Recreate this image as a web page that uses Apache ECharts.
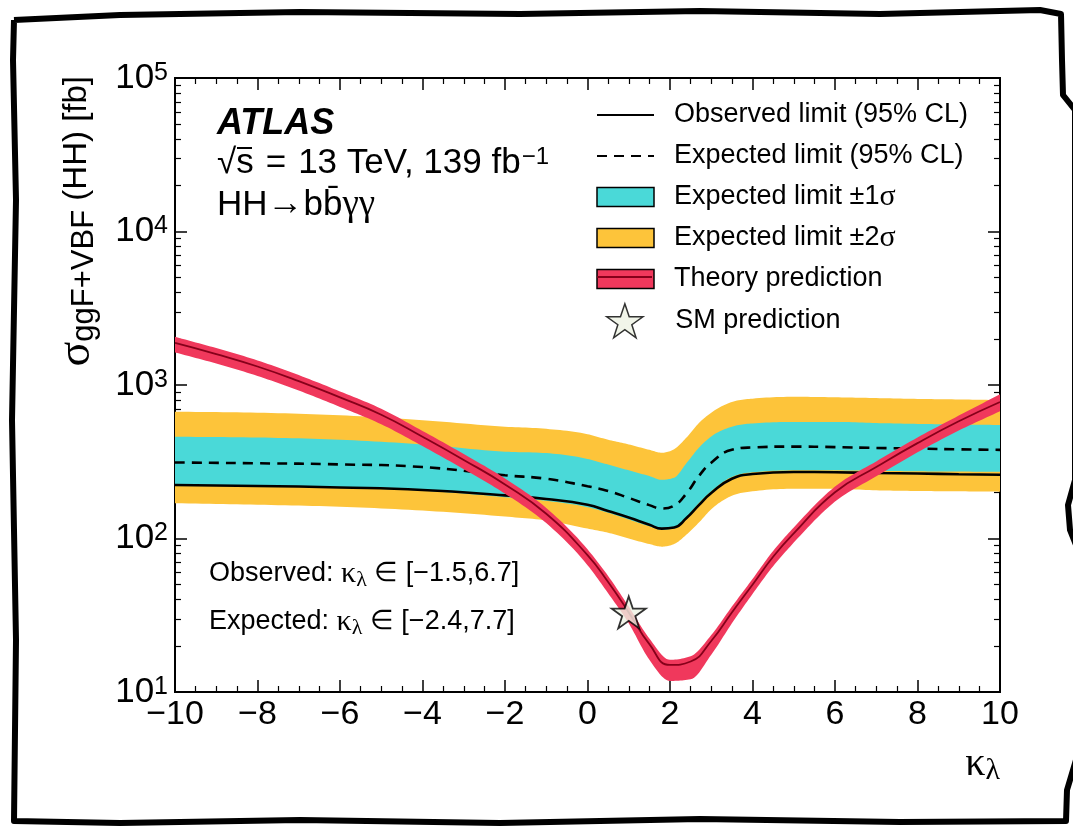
<!DOCTYPE html>
<html><head><meta charset="utf-8">
<script src="https://cdn.jsdelivr.net/npm/echarts@6/dist/echarts.min.js"></script>
<style>html,body{margin:0;padding:0;background:#fff}#c{width:1073px;height:831px}</style>
</head><body><div id="c"></div>
<script>
// ---- data ----
const kappaLim = [-10, -8, -6, -4, -2, -1, 0, 0.5, 1, 1.5, 1.8, 2.1, 2.4, 2.7, 3.0, 3.5, 4, 5, 6, 7, 8, 9, 10];
const expLimit = [313, 309, 304, 292, 258, 245, 219, 204, 184, 165, 157, 164, 197, 255, 312, 378, 392, 397, 394, 389, 385, 381, 378];
const obsLimit = [223, 220, 215, 207, 191, 181, 166, 151, 137, 123, 116, 118, 136, 165, 198, 245, 263, 271, 270, 267, 265, 262, 260];
const exp1Up   = [460, 455, 440, 410, 368, 360, 330, 303, 278, 255, 241, 249, 310, 390, 462, 535, 562, 575, 575, 565, 558, 553, 549];
const exp1Down = [222, 219, 214, 205, 186, 176, 160, 147, 133, 120, 114, 116, 137, 170, 203, 252, 270, 278, 278, 276, 274, 273, 272];
const exp2Up   = [670, 660, 635, 590, 535, 518, 478, 440, 410, 378, 362, 382, 455, 565, 660, 775, 815, 838, 832, 822, 812, 805, 798];
const exp2Down = [170, 166, 161, 152, 139, 131, 116, 109, 100, 92, 88.5, 92, 106, 127, 155, 190, 203, 211, 211, 206, 204, 203, 202];

const kappaTh    = [-10, -9, -8, -7, -6, -5, -4, -3, -2, -1, 0, 0.5, 1, 1.5, 2, 2.5, 3, 3.5, 4, 4.5, 5, 6, 7, 8, 9, 10];
const theory     = [1880, 1590, 1320, 1060, 830, 640, 460, 325, 225, 145, 78, 52, 33, 20.5, 15.0, 15.8, 21.5, 33, 50, 76, 108, 200, 292, 418, 580, 775];
const theoryUp   = [2060, 1740, 1445, 1160, 908, 700, 502, 355, 246, 158, 85, 57, 36, 22.3, 16.2, 17.1, 23.5, 36, 54.5, 83, 118, 218, 318, 455, 632, 870];
const theoryDown = [1630, 1380, 1145, 920, 720, 555, 400, 283, 196, 126, 67, 44, 28, 16.2, 11.8, 12.1, 17.5, 28, 43.5, 66, 94, 174, 254, 364, 505, 675];

const smPoint = [1.0, 33];
const xRange = [-10, 10];
const yRange = [10, 100000];
const legendNames = ['Observed limit (95% CL)', 'Expected limit (95% CL)', 'Expected limit \u00b11\u03c3', 'Expected limit \u00b12\u03c3', 'Theory prediction', 'SM prediction'];

// ---- styling ----
const SANS = "'Liberation Sans', Arial, Helvetica, sans-serif";
const SERIF = "'Liberation Serif', 'DejaVu Serif', serif";
const YELLOW = '#FDC43A';
const CYAN = '#4AD9D8';
const RED = '#F0385C';
const DARKRED = '#86001A';
const STARFILL = '#EEF2E4';
const STAR = 'path://M50,0 L61.8,35.1 L98.9,35.1 L68.9,56.8 L80.3,91.9 L50,70.2 L19.7,91.9 L31.1,56.8 L1.1,35.1 L38.2,35.1 Z';

const pairs = (xs, ys) => xs.map((x, i) => [x, ys[i]]);

// monotone cubic drawing of a pixel-space curve (same idea as a monotone-x smooth line)
function smoothPixels(P) {
  const n = P.length, out = [];
  if (n < 2) return P.slice();
  const h = [], s = [];
  for (let i = 0; i < n - 1; i++) { h.push(P[i + 1][0] - P[i][0]); s.push((P[i + 1][1] - P[i][1]) / h[i]); }
  const m = new Array(n);
  m[0] = s[0]; m[n - 1] = s[n - 2];
  for (let i = 1; i < n - 1; i++) {
    const s0 = s[i - 1], s1 = s[i], h0 = h[i - 1], h1 = h[i];
    const p = (s0 * h1 + s1 * h0) / (h0 + h1);
    m[i] = (Math.sign(s0) + Math.sign(s1)) * Math.min(Math.abs(s0), Math.abs(s1), 0.5 * Math.abs(p)) || 0;
  }
  for (let i = 0; i < n - 1; i++) {
    const steps = 12;
    for (let k = 0; k < steps; k++) {
      const t = k / steps, t2 = t * t, t3 = t2 * t;
      const y = (2 * t3 - 3 * t2 + 1) * P[i][1] + (t3 - 2 * t2 + t) * h[i] * m[i]
              + (-2 * t3 + 3 * t2) * P[i + 1][1] + (t3 - t2) * h[i] * m[i + 1];
      out.push([P[i][0] + t * h[i], y]);
    }
  }
  out.push(P[n - 1]);
  return out;
}
function bandSeries(name, xs, up, dn, color, z) {
  return {
    type: 'custom', name: name, coordinateSystem: 'cartesian2d', clip: true, silent: true, z: z,
    itemStyle: {color: color},
    encode: {x: 0, y: [1, 2]},
    data: xs.map((x, i) => [x, up[i], dn[i]]),
    renderItem: function (params, api) {
      if (params.dataIndex !== 0) return null;
      const U = smoothPixels(xs.map((x, i) => api.coord([x, up[i]])));
      const D = smoothPixels(xs.map((x, i) => api.coord([x, dn[i]])));
      return {type: 'polygon', shape: {points: U.concat(D.reverse())}, style: {fill: color, stroke: null}};
    }
  };
}

const minorY = [];
for (let d = yRange[0]; d < yRange[1]; d *= 10) for (let k = 2; k <= 9; k++) minorY.push(d * k);

function xAxisDef(pos, labels) {
  return {
    type: 'value', min: xRange[0], max: xRange[1], interval: 2, position: pos,
    axisLine: {show: true, onZero: false, lineStyle: {color: '#000', width: 2}},
    axisTick: {show: true, inside: true, length: 12, lineStyle: {color: '#000', width: 1.5}},
    minorTick: {show: true, splitNumber: 4, length: 6, lineStyle: {color: '#000', width: 1.2}},
    splitLine: {show: false}, minorSplitLine: {show: false},
    axisLabel: labels ? {show: true, margin: 6, fontSize: 34, fontFamily: SANS, color: '#000',
      formatter: v => String(v).replace('-', '\u2212')} : {show: false}
  };
}
function yAxisDef(pos, labels, minor) {
  return {
    type: 'log', logBase: 10, min: yRange[0], max: yRange[1], position: pos,
    axisLine: {show: true, onZero: false, lineStyle: {color: '#000', width: 2}},
    axisTick: minor ? {show: true, inside: true, length: 6, customValues: minorY, lineStyle: {color: '#000', width: 1.2}}
                    : {show: true, inside: true, length: 12, lineStyle: {color: '#000', width: 1.5}},
    splitLine: {show: false},
    axisLabel: labels ? {show: true, margin: 7,
      formatter: v => '{b|10}{s|' + Math.round(Math.log10(v)) + '}',
      rich: {b: {fontSize: 35, fontFamily: SANS, color: '#000'},
             s: {fontSize: 25, fontFamily: SANS, color: '#000', verticalAlign: 'top'}}} : {show: false}
  };
}

const chart = echarts.init(document.getElementById('c'), null, {renderer: 'canvas', width: 1073, height: 831});
const hidden = {color: 'rgba(0,0,0,0)', borderColor: 'rgba(0,0,0,0)', borderWidth: 0};

const option = {
  backgroundColor: '#fff',
  animation: false,
  grid: {left: 175, top: 78, width: 825, height: 614, containLabel: false, outerBoundsMode: 'none'},
  xAxis: [xAxisDef('bottom', true), xAxisDef('top', false)],
  yAxis: [yAxisDef('left', true, false), yAxisDef('left', false, true), yAxisDef('right', false, false), yAxisDef('right', false, true)],
  legend: [{
    orient: 'vertical', left: 591, top: 95, itemWidth: 57, itemHeight: 19, itemGap: 11,
    selectedMode: false, z: 20,
    textStyle: {fontFamily: SANS, fontSize: 27, color: '#000', lineHeight: 30,
      rich: {sp: {width: 15}, t: {fontFamily: SANS, fontSize: 27, lineHeight: 30}, g: {fontFamily: SERIF, fontSize: 30, lineHeight: 30}}},
    formatter: n => {
      const m = n.match(/^(.*)(\u03c3)$/);
      return m ? '{sp|}{t|' + m[1] + '}{g|\u03c3}' : '{sp|}{t|' + n + '}';
    },
    data: [
      {name: legendNames[0], itemStyle: hidden},
      {name: legendNames[1], itemStyle: hidden},
      {name: legendNames[2], icon: 'rect', itemStyle: {color: CYAN, borderColor: '#000', borderWidth: 1.5}},
      {name: legendNames[3], icon: 'rect', itemStyle: {color: YELLOW, borderColor: '#000', borderWidth: 1.5}},
      {name: legendNames[4], icon: 'rect', itemStyle: {color: RED, borderColor: '#000', borderWidth: 1.5}}
    ]
  }, {
    orient: 'vertical', left: 601, top: 298, itemWidth: 57, itemHeight: 34,
    selectedMode: false, z: 20,
    textStyle: {fontFamily: SANS, fontSize: 27, color: '#000', rich: {sp: {width: 17}, t: {fontFamily: SANS, fontSize: 27}}},
    formatter: n => '{sp|}{t|' + n + '}',
    data: [{name: legendNames[5], icon: STAR, itemStyle: {color: STARFILL, borderColor: '#000', borderWidth: 1.5}}]
  }],
  series: [
    bandSeries(legendNames[3], kappaLim, exp2Up, exp2Down, YELLOW, 2),
    bandSeries(legendNames[2], kappaLim, exp1Up, exp1Down, CYAN, 2),
    {type: 'line', name: legendNames[1], symbol: 'none', smooth: 0.5, data: pairs(kappaLim, expLimit), z: 3,
      itemStyle: {color: '#000'}, lineStyle: {color: '#000', width: 2.6, type: [10, 7]}},
    {type: 'line', name: legendNames[0], symbol: 'none', smooth: 0.5, data: pairs(kappaLim, obsLimit), z: 3,
      itemStyle: {color: '#000'}, lineStyle: {color: '#000', width: 2.6}},
    bandSeries(legendNames[4], kappaTh, theoryUp, theoryDown, RED, 4),
    {type: 'line', name: 'theory central', symbol: 'none', smooth: 0.5, data: pairs(kappaTh, theory), z: 5,
      lineStyle: {color: DARKRED, width: 1.8}},
    {type: 'scatter', name: legendNames[5], data: [smPoint], symbol: STAR, symbolSize: 34, symbolKeepAspect: true,
      itemStyle: {color: STARFILL, borderColor: '#000', borderWidth: 1.8}, z: 10}
  ],
  graphic: [
    {type: 'polyline', silent: true, z: 100, shape: {points: [[14,20],[120,15],[300,12],[520,14],[700,11],[880,14],[1040,10],[1061,14],[1062,60],[1063,95],[1075,110],[1075,480],[1068,505],[1070,530],[1076,545],[1076,760],[1067,790],[1066,821],[900,822],[700,819],[500,823],[300,820],[120,823],[14,821],[16,640],[12,420],[16,200],[13,60],[14,20]]},
      style: {stroke: '#000', lineWidth: 6, fill: null, lineJoin: 'round'}},
    {type: 'text', z: 50, x: 217, y: 124, style: {text: 'ATLAS', fontFamily: SANS, fontSize: 36, fontWeight: 'bold', fontStyle: 'italic', fill: '#000', verticalAlign: 'middle'}},
    {type: 'text', z: 50, x: 217, y: 163, style: {text: '{t|\u221as}{e|=}{t|13 TeV, 139 fb}{u|\u22121}', verticalAlign: 'middle', fill: '#000',
      rich: {t: {fontFamily: SANS, fontSize: 35, lineHeight: 36}, e: {fontFamily: SANS, fontSize: 35, lineHeight: 36, padding: [0, 12, 0, 12]}, u: {fontFamily: SANS, fontSize: 24, verticalAlign: 'top', padding: [0, 0, 0, 1]}}}},
    {type: 'line', z: 50, shape: {x1: 237, y1: 148, x2: 252, y2: 148}, style: {stroke: '#000', lineWidth: 2}},
    {type: 'text', z: 50, x: 217, y: 205, style: {text: '{t|HH}{a|\u2192}{t|bb\u0304}{g|\u03b3\u03b3}', verticalAlign: 'middle', fill: '#000',
      rich: {t: {fontFamily: SANS, fontSize: 35}, a: {fontFamily: SERIF, fontSize: 36}, g: {fontFamily: SERIF, fontSize: 37}}}},
    {type: 'line', z: 50, shape: {x1: 597, y1: 277, x2: 652, y2: 277}, style: {stroke: DARKRED, lineWidth: 2}},
    {type: 'text', z: 50, x: 209, y: 574, style: {text: '{t|Observed: }{k|\u03ba}{l|\u03bb}{t| \u2208 [\u22121.5,6.7]}', verticalAlign: 'middle', fill: '#000',
      rich: {t: {fontFamily: SANS, fontSize: 27, lineHeight: 34}, k: {fontFamily: SERIF, fontSize: 30, lineHeight: 34}, l: {fontFamily: SERIF, fontSize: 22, verticalAlign: 'bottom', lineHeight: 22}}}},
    {type: 'text', z: 50, x: 209, y: 622, style: {text: '{t|Expected: }{k|\u03ba}{l|\u03bb}{t| \u2208 [\u22122.4,7.7]}', verticalAlign: 'middle', fill: '#000',
      rich: {t: {fontFamily: SANS, fontSize: 27, lineHeight: 34}, k: {fontFamily: SERIF, fontSize: 30, lineHeight: 34}, l: {fontFamily: SERIF, fontSize: 22, verticalAlign: 'bottom', lineHeight: 22}}}},
    {type: 'text', z: 50, x: 1000, y: 764, style: {text: '{k|\u03ba}{l|\u03bb}', align: 'right', verticalAlign: 'middle', fill: '#000',
      rich: {k: {fontFamily: SERIF, fontSize: 40, lineHeight: 44}, l: {fontFamily: SERIF, fontSize: 30, verticalAlign: 'bottom', lineHeight: 30}}}},
    {type: 'text', z: 50, x: 100, y: 76, rotation: Math.PI / 2, style: {text: '{g|\u03c3}{s|ggF+VBF}{t| (HH) [fb]}', align: 'right', verticalAlign: 'bottom', fill: '#000',
      rich: {g: {fontFamily: SERIF, fontSize: 46, lineHeight: 46}, s: {fontFamily: SANS, fontSize: 31, verticalAlign: 'bottom', lineHeight: 31}, t: {fontFamily: SANS, fontSize: 33, lineHeight: 46}}}}
  ]
};
chart.setOption(option);
</script>
</body></html>
